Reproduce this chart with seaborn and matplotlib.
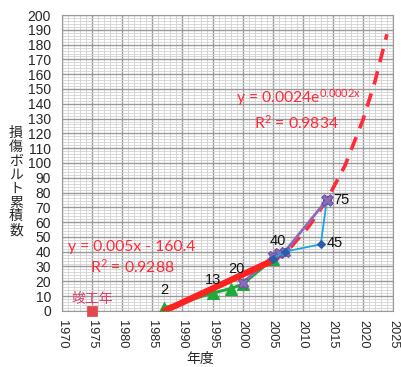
import matplotlib
matplotlib.use("Agg")
import matplotlib.pyplot as plt
import seaborn as sns
import numpy as np
import pandas as pd
from matplotlib.ticker import MultipleLocator

# ---- data ----
green_years = [1987, 1995, 1998, 2000, 2005]
green_vals = [2, 12, 15, 18, 35]
purple_years = [2000, 2005, 2006, 2007, 2014]
purple_vals = [19, 37, 39, 40, 75]
blue_years = [2005, 2007, 2013, 2014]
blue_vals = [35, 40, 45, 75]
linear_years = [1987, 2005]
linear_vals = [0, 34]
exp_years = [2005, 2008, 2011, 2014, 2017, 2020, 2022, 2024]
exp_vals = [33, 43, 57, 75, 98, 129, 155, 187]
completion_year = [1975]
completion_val = [0]
label_years = [1987, 1995, 1999, 2005.8, 2015.4, 2016.4]
label_vals = [14, 21, 28, 47, 46, 75]
label_texts = ["2", "13", "20", "40", "45", "75"]
x_ticks = list(range(1970, 2030, 5))
y_ticks = list(range(0, 210, 10))

sns.set_style("white")
plt.rcParams['font.family'] = ['Liberation Sans', 'Noto Sans CJK JP', 'DejaVu Sans']
plt.rcParams['mathtext.fontset'] = 'custom'
plt.rcParams['mathtext.rm'] = 'Lato'
plt.rcParams['mathtext.it'] = 'Lato'
plt.rcParams['mathtext.default'] = 'regular'

fig = plt.figure(figsize=(4.01, 3.67), dpi=100)
ax = fig.add_axes([0.155, 0.153, 0.825, 0.806])

# grids
ax.set_xlim(1970, 2025)
ax.set_ylim(0, 200)
ax.xaxis.set_major_locator(MultipleLocator(5))
ax.xaxis.set_minor_locator(MultipleLocator(1))
ax.yaxis.set_major_locator(MultipleLocator(10))
ax.yaxis.set_minor_locator(MultipleLocator(2))
ax.grid(which='major', color='#999999', lw=1.0)
ax.grid(which='minor', color='#d2d2d2', lw=0.6)
ax.set_axisbelow(True)
for s in ax.spines.values():
    s.set_color('#999999')
    s.set_linewidth(0.8)

red = '#ff2a3a'
# red trend lines
sns.lineplot(x=exp_years, y=exp_vals, ax=ax, color=red, lw=2.6, zorder=3,
             linestyle=(0, (3.8, 2.6)))

# green series
sns.lineplot(x=green_years, y=green_vals, ax=ax, color='#1faa3c', lw=2.2, zorder=3,
             marker='^', markersize=8, markeredgecolor='#1faa3c')
# purple series
sns.lineplot(x=purple_years, y=purple_vals, ax=ax, color='#8a6cb8', lw=2, zorder=3,
             marker='X', markersize=7.5, markeredgecolor='#6a50a0')
sns.lineplot(x=linear_years, y=linear_vals, ax=ax, color='#ff2020', lw=4.5, zorder=4)
# blue series
sns.lineplot(x=blue_years, y=blue_vals, ax=ax, color='#1aa6e0', lw=1.3, zorder=5,
             marker='D', markersize=4.5, markerfacecolor='#2a5ca8', markeredgecolor='#2a5ca8')
# overlay X at 75
sns.scatterplot(x=[2014], y=[75], ax=ax, marker='X', s=70, color='#8a6cb8',
                edgecolor='#6a50a0', zorder=6)

# completion marker
sns.scatterplot(x=completion_year, y=completion_val, ax=ax, marker='s', s=45,
                color='#e04850', edgecolor='#e04850', zorder=6, clip_on=False)
ax.text(1975, 8, "竣工年", color='#d8406a', fontsize=10, ha='center', va='center',
        family=['Noto Sans CJK JP', 'DejaVu Sans'], zorder=7)

for xv, yv, t in zip(label_years, label_vals, label_texts):
    ax.text(xv, yv, t, fontsize=10.5, ha='center', va='center', color='#111111', zorder=7)

# equations
ax.text(2009.3, 144, r"y = 0.0024e$^{0.0002x}$", color=red, fontsize=11.3,
        ha='center', va='center', family='Lato')
ax.text(2008.9, 127, r"R$^{2}$ = 0.9834", color=red, fontsize=11.3,
        ha='center', va='center', family='Lato')
ax.text(1981.6, 43, "y = 0.005x - 160.4", color=red, fontsize=11.3,
        ha='center', va='center', family='Lato')
ax.text(1981.6, 30, r"R$^{2}$ = 0.9288", color=red, fontsize=11.3,
        ha='center', va='center', family='Lato')

ax.set_xticks(x_ticks)
ax.set_yticks(y_ticks)
ax.set_xticklabels([str(v) for v in x_ticks], rotation=-90, fontsize=9.2)
ax.set_yticklabels([str(v) for v in y_ticks], fontsize=10)
ax.tick_params(axis='y', which='both', length=0, pad=8)
ax.tick_params(axis='x', which='both', length=0, pad=6.5)
ax.set_xlabel("")
ax.set_ylabel("")

fig.text(200/401, 1-359/367, "年度", ha='center', va='center', fontsize=10,
         family=['Noto Sans CJK JP', 'DejaVu Sans'])
for i, ch in enumerate("損傷ボルト累積数"):
    fig.text(16/401, 1-(133 + 13.9*i)/367, ch, ha='center', va='center',
             fontsize=10, family=['Noto Sans CJK JP', 'DejaVu Sans'])

fig.savefig("out.png", dpi=100)
